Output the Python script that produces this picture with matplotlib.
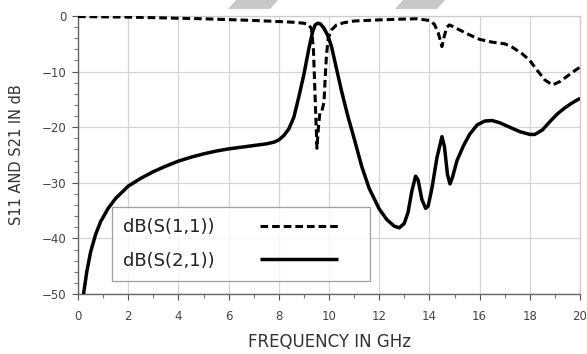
import matplotlib
matplotlib.use("Agg")
import matplotlib.pyplot as plt
import matplotlib.patches as mpatches
from matplotlib.ticker import MultipleLocator

# the reference text is wide, DejaVu Sans matches its extents best
plt.rcParams["font.family"] = ["DejaVu Sans"]

# ── Data ──────────────────────────────────────────────────────────────────────
s11_freq = [0, 1, 2, 3, 4, 5, 6, 7, 8, 8.5, 9.0, 9.2, 9.3, 9.38, 9.45, 9.52,
            9.58, 9.64, 9.72, 9.8, 9.85, 9.9, 9.97, 10.1, 10.3, 10.6, 11, 12,
            13, 13.5, 14.0, 14.2, 14.35, 14.5, 14.6, 14.7, 14.8, 15.2, 15.6,
            16.0, 16.5, 17.0, 17.3, 17.7, 18.0, 18.3, 18.6, 18.9, 19.2, 19.5,
            19.8, 20.0]
s11_db = [-0.1, -0.15, -0.2, -0.3, -0.4, -0.5, -0.65, -0.8, -1.0, -1.1, -1.3,
          -1.6, -2.3, -6, -15, -23.8, -20, -17.2, -17, -15.5, -11, -7, -4,
          -2.5, -1.6, -1.2, -0.9, -0.7, -0.55, -0.5, -0.8, -1.5, -3, -5.5,
          -3.5, -2, -1.6, -2.5, -3.4, -4.2, -4.7, -5.0, -5.6, -6.8, -8.0,
          -9.8, -11.5, -12.4, -11.8, -10.8, -9.8, -9.2]

s21_freq = [0.22, 0.35, 0.5, 0.7, 0.9, 1.2, 1.5, 2.0, 2.5, 3.0, 3.5, 4.0, 4.5,
            5.0, 5.5, 6.0, 6.5, 7.0, 7.5, 7.8, 8.0, 8.2, 8.4, 8.6, 8.8, 9.0,
            9.2, 9.35, 9.45, 9.55, 9.65, 9.8, 9.95, 10.1, 10.3, 10.5, 10.75,
            11.0, 11.3, 11.6, 12.0, 12.3, 12.6, 12.8, 13.0, 13.15, 13.3, 13.45,
            13.55, 13.7, 13.85, 13.95, 14.1, 14.3, 14.5, 14.6, 14.72, 14.82,
            14.92, 15.1, 15.35, 15.6, 15.9, 16.2, 16.5, 16.8, 17.2, 17.6, 18.0,
            18.2, 18.5, 18.8, 19.1, 19.4, 19.7, 20.0]
s21_db = [-50, -46, -42.5, -39.3, -37, -34.6, -32.8, -30.6, -29.2, -28.0,
          -27.0, -26.1, -25.4, -24.8, -24.3, -23.9, -23.6, -23.3, -23.0, -22.7,
          -22.3, -21.5, -20.3, -18.2, -14.5, -10.5, -5.8, -2.8, -1.6, -1.3,
          -1.4, -2.2, -3.5, -5.5, -9.5, -13.5, -18, -22, -27, -31, -34.7,
          -36.6, -37.8, -38.1, -37.3, -35.3, -31.5, -28.8, -29.5, -33, -34.6,
          -34.2, -31, -25.5, -21.7, -23.5, -28.5, -30.2, -29, -26, -23.4,
          -21.3, -19.6, -18.9, -18.8, -19.2, -20, -20.8, -21.3, -21.3, -20.5,
          -19, -17.6, -16.5, -15.6, -14.8]

x_ticks = [0, 2, 4, 6, 8, 10, 12, 14, 16, 18, 20]
y_ticks = [-50, -40, -30, -20, -10, 0]

# ── Figure ────────────────────────────────────────────────────────────────────
fig = plt.figure(figsize=(5.87, 3.54), dpi=100)
ax = fig.add_axes([78 / 587, 1 - 294 / 354, 502 / 587, 278 / 354])

ax.plot(s11_freq, s11_db, color="black", lw=2.2, linestyle=(0, (2.5, 1.3)),
        label="dB(S(1,1))", zorder=4)
ax.plot(s21_freq, s21_db, color="black", lw=2.5, label="dB(S(2,1))",
        solid_capstyle="butt", zorder=4)

ax.set_xlim(0, 20)
ax.set_ylim(-50, 0)
ax.set_xticks(x_ticks)
ax.set_yticks(y_ticks)
ax.xaxis.set_minor_locator(MultipleLocator(1))
ax.yaxis.set_minor_locator(MultipleLocator(2))
ax.grid(True, which="major", color="#d4d4d4", lw=0.9)
ax.set_axisbelow(True)

ax.tick_params(axis="both", which="major", labelsize=8.5, colors="#555",
               labelcolor="#444", length=4.3, width=0.8, direction="out")
ax.tick_params(axis="both", which="minor", colors="#777", length=3,
               width=0.8, direction="out")
ax.tick_params(axis="x", which="major", pad=7)
ax.tick_params(axis="y", which="major", pad=4)

for side in ("top", "right"):
    ax.spines[side].set_color("#cccccc")
    ax.spines[side].set_linewidth(0.9)
for side in ("left", "bottom"):
    ax.spines[side].set_color("#666666")
    ax.spines[side].set_linewidth(1.0)

ax.set_xlabel("FREQUENCY IN GHz", fontsize=12, color="#333")
ax.set_ylabel("S11 AND S21 IN dB", fontsize=10.5, color="#333")
ax.xaxis.set_label_coords(0.5, -0.14)
ax.yaxis.set_label_coords(-0.108, 0.5)

leg = ax.legend(loc="upper left", bbox_to_anchor=(0.068, 0.313, 0.514, 0.0),
                mode="expand", markerfirst=False, fontsize=13,
                handlelength=4.3, handletextpad=2.5, frameon=True,
                fancybox=False, borderaxespad=0, labelspacing=0.85,
                borderpad=0.62)
leg.get_frame().set_edgecolor("#888")
leg.get_frame().set_linewidth(0.9)
for t in leg.get_texts():
    t.set_color("#222")

# watermark shapes at the top edge
for x0 in (228, 395):
    poly = mpatches.Polygon(
        [((x0 + 8) / 587, 1.0), ((x0 + 50) / 587, 1.0),
         ((x0 + 42) / 587, 1 - 9 / 354), (x0 / 587, 1 - 9 / 354)],
        closed=True, transform=fig.transFigure, facecolor="#c8c8c8",
        edgecolor="none", zorder=10)
    fig.patches.append(poly)

fig.savefig("out.png", dpi=100)
